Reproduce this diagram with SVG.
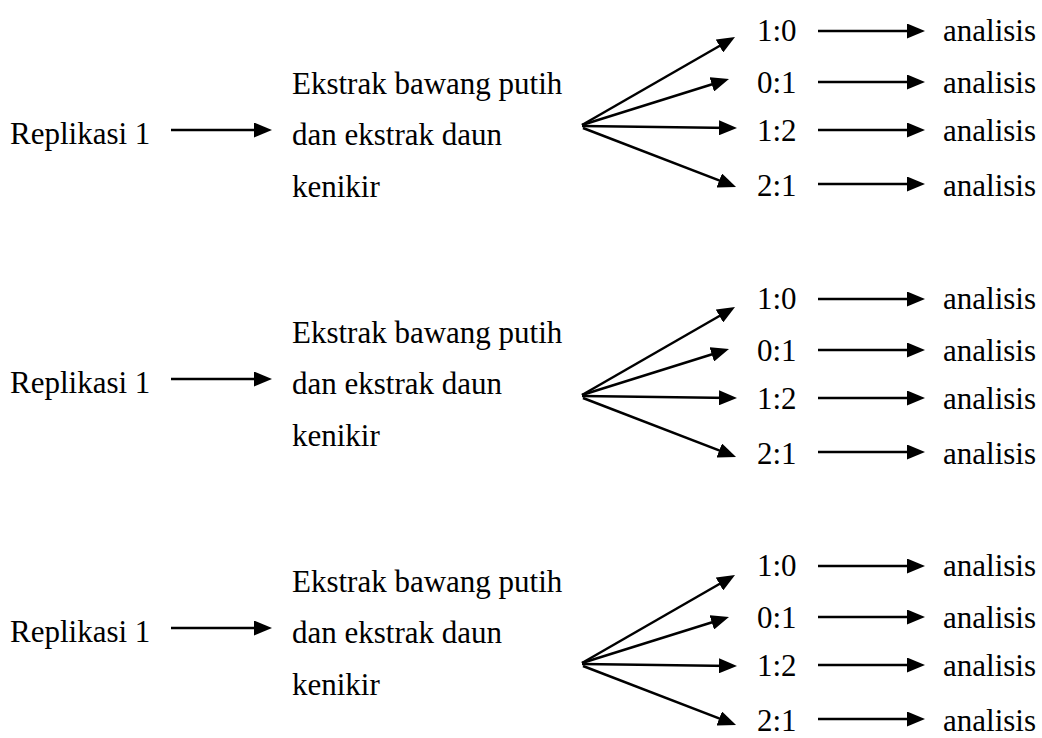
<svg xmlns="http://www.w3.org/2000/svg" width="1042" height="738" viewBox="0 0 1042 738">
  <defs>
    <style>
      text { font-family: 'Liberation Serif', Tinos, 'Times New Roman', Times, serif; font-size: 31px; fill: #000; }
      .conn line { stroke: #000; stroke-width: 2.5; fill: none; marker-end: url(#head); }
    </style>
    <!-- solid triangular arrowhead; tip sits 5px beyond the line end -->
    <marker id="head" markerUnits="userSpaceOnUse" markerWidth="18" markerHeight="15" refX="13" refY="7.5" orient="auto">
      <path d="M0,0 L18,7.5 L0,15 Z" fill="#000"/>
    </marker>
  </defs>
  <rect width="1042" height="738" fill="#fff"/>

  <!-- ===== Block 1 ===== -->
  <g id="rep1"><text x="10" y="144">Replikasi 1</text></g>
  <g id="ext1">
    <text x="292" y="94">Ekstrak bawang putih</text>
    <text x="292" y="145">dan ekstrak daun</text>
    <text x="292" y="197">kenikir</text>
  </g>
  <g id="r1a"><text x="757" y="41">1:0</text></g>
  <g id="r1b"><text x="757" y="93">0:1</text></g>
  <g id="r1c"><text x="757" y="141">1:2</text></g>
  <g id="r1d"><text x="757" y="196">2:1</text></g>
  <g id="an1a"><text x="943" y="41">analisis</text></g>
  <g id="an1b"><text x="943" y="93">analisis</text></g>
  <g id="an1c"><text x="943" y="141">analisis</text></g>
  <g id="an1d"><text x="943" y="196">analisis</text></g>

  <!-- ===== Block 2 ===== -->
  <g id="rep2"><text x="10" y="393">Replikasi 1</text></g>
  <g id="ext2">
    <text x="292" y="343">Ekstrak bawang putih</text>
    <text x="292" y="394">dan ekstrak daun</text>
    <text x="292" y="446">kenikir</text>
  </g>
  <g id="r2a"><text x="757" y="309">1:0</text></g>
  <g id="r2b"><text x="757" y="361">0:1</text></g>
  <g id="r2c"><text x="757" y="409">1:2</text></g>
  <g id="r2d"><text x="757" y="464">2:1</text></g>
  <g id="an2a"><text x="943" y="309">analisis</text></g>
  <g id="an2b"><text x="943" y="361">analisis</text></g>
  <g id="an2c"><text x="943" y="409">analisis</text></g>
  <g id="an2d"><text x="943" y="464">analisis</text></g>

  <!-- ===== Block 3 ===== -->
  <g id="rep3"><text x="10" y="642">Replikasi 1</text></g>
  <g id="ext3">
    <text x="292" y="592">Ekstrak bawang putih</text>
    <text x="292" y="643">dan ekstrak daun</text>
    <text x="292" y="695">kenikir</text>
  </g>
  <g id="r3a"><text x="757" y="576">1:0</text></g>
  <g id="r3b"><text x="757" y="628">0:1</text></g>
  <g id="r3c"><text x="757" y="676">1:2</text></g>
  <g id="r3d"><text x="757" y="731">2:1</text></g>
  <g id="an3a"><text x="943" y="576">analisis</text></g>
  <g id="an3b"><text x="943" y="628">analisis</text></g>
  <g id="an3c"><text x="943" y="676">analisis</text></g>
  <g id="an3d"><text x="943" y="731">analisis</text></g>

  <!-- ===== Connectors ===== -->
  <g id="connectors" class="conn">
    <!-- block 1 -->
    <line x1="171" y1="130" x2="267" y2="130"/>
    <line x1="582" y1="125" x2="730.7" y2="39.5"/>
    <line x1="582" y1="125" x2="724.2" y2="80.5"/>
    <line x1="582" y1="126" x2="732" y2="128"/>
    <line x1="583" y1="128" x2="731.4" y2="185.1"/>
    <line x1="818" y1="31" x2="920" y2="31"/>
    <line x1="818" y1="82" x2="920" y2="82"/>
    <line x1="818" y1="130" x2="920" y2="130"/>
    <line x1="818" y1="184" x2="920" y2="184"/>

    <!-- block 2 -->
    <line x1="171" y1="379" x2="267" y2="379"/>
    <line x1="582" y1="395" x2="730.7" y2="309.5"/>
    <line x1="582" y1="395" x2="724.2" y2="350.5"/>
    <line x1="582" y1="396" x2="732" y2="398"/>
    <line x1="583" y1="398" x2="731.4" y2="455.1"/>
    <line x1="818" y1="299" x2="920" y2="299"/>
    <line x1="818" y1="350" x2="920" y2="350"/>
    <line x1="818" y1="398" x2="920" y2="398"/>
    <line x1="818" y1="452" x2="920" y2="452"/>

    <!-- block 3 -->
    <line x1="171" y1="628" x2="267" y2="628"/>
    <line x1="582" y1="663" x2="730.7" y2="577.5"/>
    <line x1="582" y1="663" x2="724.2" y2="618.5"/>
    <line x1="582" y1="664" x2="732" y2="666"/>
    <line x1="583" y1="666" x2="731.4" y2="723.1"/>
    <line x1="818" y1="566" x2="920" y2="566"/>
    <line x1="818" y1="617" x2="920" y2="617"/>
    <line x1="818" y1="665" x2="920" y2="665"/>
    <line x1="818" y1="719" x2="920" y2="719"/>
  </g>
</svg>
